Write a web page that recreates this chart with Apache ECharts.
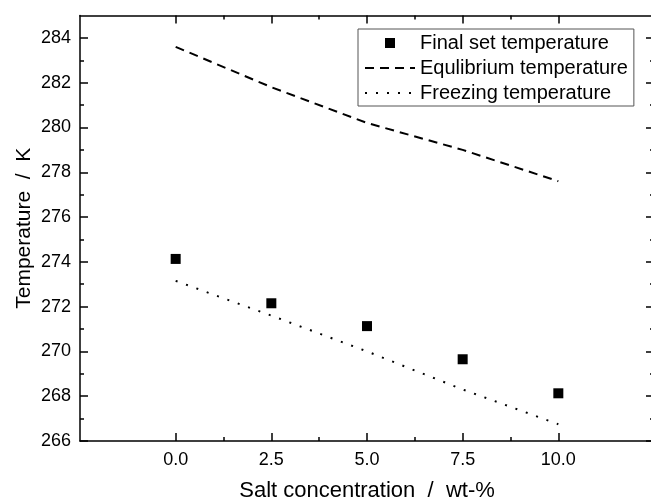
<!DOCTYPE html>
<html>
<head>
<meta charset="UTF-8">
<title>Salt concentration vs temperature</title>
<script type="text/javascript" src="https://cdn.jsdelivr.net/npm/echarts@6/dist/echarts.min.js"></script>
<style>
html,body{margin:0;padding:0;background:#fff;}
</style>
</head>
<body>
<div id="box" style="width:651px;height:501px;"></div>

<script type="text/javascript">
// values
var concentration=[0,2.5,5,7.5,10];
var finalSet=[274.13,272.15,271.13,269.65,268.13];
var equilibrium=[283.6,281.8,280.2,279.0,277.6];
var freezing=[273.15,271.6,270.0,268.3,266.75];

var xTicks=[0,2.5,5,7.5,10];
var xMinor=[1.25,3.75,6.25,8.75];
var yTicks=[266,268,270,272,274,276,278,280,282,284];
var yMinor=[267,269,271,273,275,277,279,281,283];

var font="'Liberation Sans', Arial, sans-serif";

function pairs(ys){
  var out=[];
  for(var i=0;i<concentration.length;i++){
    out.push([concentration[i],ys[i]]);
  }
  return out;
}

function xAx(pos,ticks,len,line,labels){
  return {
    type:'value',position:pos,min:-2.5,max:12.5,
    axisLine:{show:line,onZero:false,lineStyle:{color:'#000',width:1.5}},
    axisTick:{show:true,inside:true,length:len,customValues:ticks,lineStyle:{color:'#000',width:1.5}},
    axisLabel:{show:labels,customValues:xTicks,margin:10,color:'#000',fontSize:18,fontFamily:font,
      formatter:function(v){return v.toFixed(1);}},
    splitLine:{show:false}
  };
}

function yAx(pos,ticks,len,line,labels){
  return {
    type:'value',position:pos,min:266,max:285,
    axisLine:{show:line,onZero:false,lineStyle:{color:'#000',width:1.5}},
    axisTick:{show:true,inside:true,length:len,customValues:ticks,lineStyle:{color:'#000',width:1.5}},
    axisLabel:{show:labels,customValues:yTicks,margin:9,color:'#000',fontSize:18,fontFamily:font},
    splitLine:{show:false}
  };
}

var mychart=echarts.init(document.getElementById('box'));

var xMain=xAx('bottom',xTicks,8,true,true);
xMain.name='Salt concentration  /  wt-%';
xMain.nameLocation='middle';
xMain.nameGap=39;
xMain.nameMoveOverlap=false;
xMain.nameTextStyle={color:'#000',fontSize:22,fontFamily:font};

var yMain=yAx('left',yTicks,8,true,true);
yMain.name='Temperature  /  K';
yMain.nameLocation='middle';
yMain.nameGap=45;
yMain.nameMoveOverlap=false;
yMain.nameTextStyle={color:'#000',fontSize:21,fontFamily:font};

var hidden={opacity:0};

mychart.setOption({
  animation:false,
  grid:{left:80,right:-3,top:15.5,bottom:60,outerBoundsMode:'none'},
  legend:{
    orient:'vertical',left:358,top:29,
    padding:[4,6,3,6],
    itemWidth:50,itemHeight:10,itemGap:5,
    borderColor:'#555',borderWidth:1,
    textStyle:{color:'#000',fontSize:20,fontFamily:font,lineHeight:20},
    data:[
      {name:'Final set temperature',icon:'path://M0 0H10V10H0Z'},
      {name:'Equlibrium temperature',itemStyle:hidden},
      {name:'Freezing temperature',itemStyle:hidden}
    ]
  },
  xAxis:[
    xMain,
    xAx('top',xTicks,8,true,false),
    xAx('bottom',xMinor,4,false,false),
    xAx('top',xMinor,4,false,false)
  ],
  yAxis:[
    yMain,
    yAx('right',yTicks,8,true,false),
    yAx('left',yMinor,4,false,false),
    yAx('right',yMinor,4,false,false)
  ],
  series:[{
    name:'Final set temperature',
    type:'scatter',
    symbol:'rect',
    symbolSize:10,
    itemStyle:{color:'#000',opacity:1},
    data:pairs(finalSet)
  },{
    name:'Equlibrium temperature',
    type:'line',
    symbol:'none',
    itemStyle:{color:'#000'},
    lineStyle:{color:'#000',width:2,type:[9,6]},
    data:pairs(equilibrium)
  },{
    name:'Freezing temperature',
    type:'line',
    symbol:'none',
    itemStyle:{color:'#000'},
    lineStyle:{color:'#000',width:2,type:[2,9]},
    data:pairs(freezing)
  }]
});
</script>
</body>
</html>
